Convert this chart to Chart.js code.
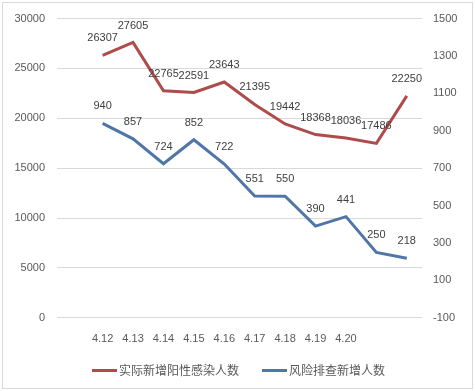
<!DOCTYPE html>
<html>
<head>
<meta charset="utf-8">
<script src="https://cdn.jsdelivr.net/npm/chart.js@4"></script>
<style>
html,body{margin:0;padding:0;background:#fff;}
#wrap{width:475px;height:391px;position:relative;}
</style>
</head>
<body>
<div id="wrap"><canvas id="c" width="475" height="391"></canvas></div>
<script>
const categories = ['', '4.12', '4.13', '4.14', '4.15', '4.16', '4.17', '4.18', '4.19', '4.20', '', ''];
const infected = [null, 26307, 27605, 22765, 22591, 23643, 21395, 19442, 18368, 18036, 17486, 22250];
const screening = [null, 940, 857, 724, 852, 722, 551, 550, 390, 441, 250, 218];
const seriesNames = ['实际新增阳性感染人数', '风险排查新增人数'];

const numFont = '"Liberation Sans", Arial, sans-serif';
const cjkFont = '"Noto Sans CJK SC", sans-serif';

const labelPlugin = {
  id: 'valueLabels',
  afterDatasetsDraw(chart) {
    const ctx = chart.ctx;
    ctx.save();
    ctx.font = '11px ' + numFont;
    ctx.fillStyle = '#404040';
    ctx.textAlign = 'center';
    ctx.textBaseline = 'middle';
    chart.data.datasets.forEach((ds, di) => {
      const meta = chart.getDatasetMeta(di);
      meta.data.forEach((pt, i) => {
        const v = ds.data[i];
        if (v === null || v === undefined) return;
        ctx.fillText(String(v), pt.x, pt.y - 17);
      });
    });
    ctx.restore();
  }
};

const legendPlugin = {
  id: 'customLegend',
  afterDraw(chart) {
    const ctx = chart.ctx;
    const y = 370;
    const starts = [92, 262];
    ctx.save();
    ctx.font = '12px ' + cjkFont;
    ctx.textBaseline = 'middle';
    ctx.textAlign = 'left';
    chart.data.datasets.forEach((ds, i) => {
      const x = starts[i];
      ctx.strokeStyle = ds.borderColor;
      ctx.lineWidth = 3;
      ctx.beginPath();
      ctx.moveTo(x, y + 0.5);
      ctx.lineTo(x + 25, y + 0.5);
      ctx.stroke();
      ctx.fillStyle = '#595959';
      ctx.fillText(ds.label, x + 27, y);
    });
    ctx.restore();
  }
};

const borderPlugin = {
  id: 'outerBorder',
  beforeDraw(chart) {
    const ctx = chart.ctx;
    ctx.save();
    ctx.fillStyle = '#fff';
    ctx.fillRect(0, 0, chart.width, chart.height);
    ctx.strokeStyle = '#d9d9d9';
    ctx.lineWidth = 1;
    ctx.strokeRect(2.5, 2.5, 470, 386);
    ctx.restore();
  }
};

const plain = v => String(v);

new Chart(document.getElementById('c'), {
  type: 'line',
  data: {
    labels: categories,
    datasets: [
      {
        label: seriesNames[0],
        data: infected,
        yAxisID: 'y',
        borderColor: '#B04B4B',
        backgroundColor: '#B04B4B',
        borderWidth: 3,
        pointRadius: 0,
        tension: 0,
        spanGaps: true
      },
      {
        label: seriesNames[1],
        data: screening,
        yAxisID: 'y1',
        borderColor: '#4F76A7',
        backgroundColor: '#4F76A7',
        borderWidth: 3,
        pointRadius: 0,
        tension: 0,
        spanGaps: true
      }
    ]
  },
  options: {
    responsive: false,
    animation: false,
    layout: { padding: { left: 0, right: 0, top: 7, bottom: 38 } },
    plugins: {
      tooltip: { enabled: false },
      legend: { display: false }
    },
    scales: {
      x: {
        offset: true,
        grid: { display: false },
        border: { display: false },
        ticks: {
          color: '#595959',
          font: { family: numFont, size: 11 },
          maxRotation: 0,
          autoSkip: false,
          padding: 7
        }
      },
      y: {
        position: 'left',
        min: 0,
        max: 30000,
        grid: { color: '#d9d9d9', drawTicks: false },
        border: { display: false },
        ticks: {
          stepSize: 5000,
          color: '#595959',
          font: { family: numFont, size: 11 },
          padding: 12,
          callback: plain
        },
        afterFit(s) { s.width = 57; }
      },
      y1: {
        position: 'right',
        min: -100,
        max: 1500,
        grid: { display: false, drawTicks: false },
        border: { display: false },
        ticks: {
          stepSize: 200,
          color: '#595959',
          font: { family: numFont, size: 11 },
          padding: 11,
          callback: plain
        },
        afterFit(s) { s.width = 53; }
      }
    }
  },
  plugins: [labelPlugin, legendPlugin, borderPlugin]
});
</script>
</body>
</html>
